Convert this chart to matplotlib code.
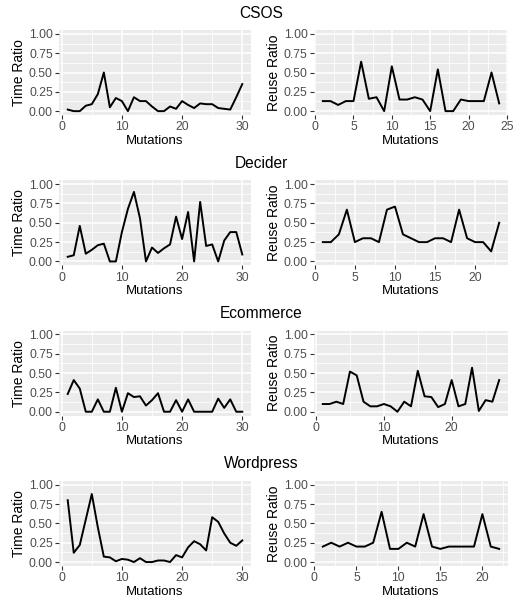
import numpy as np
import matplotlib.pyplot as plt
from matplotlib.ticker import MultipleLocator

plt.rcParams['font.family'] = ['Liberation Sans', 'DejaVu Sans']

# Datos
projects = ["CSOS", "Decider", "Ecommerce", "Wordpress"]

csos_time = [0.02, 0.0, 0.0, 0.07, 0.09, 0.22, 0.50, 0.05, 0.17, 0.13,
             0.0, 0.18, 0.13, 0.13, 0.06, 0.0, 0.0, 0.06, 0.03, 0.13,
             0.08, 0.04, 0.10, 0.09, 0.09, 0.04, 0.03, 0.02, 0.18, 0.35]
csos_reuse = [0.13, 0.13, 0.08, 0.13, 0.13, 0.64, 0.16, 0.18, 0.0, 0.58,
              0.15, 0.15, 0.18, 0.15, 0.0, 0.54, 0.0, 0.0, 0.15, 0.13,
              0.13, 0.13, 0.50, 0.10]

decider_time = [0.06, 0.08, 0.46, 0.10, 0.15, 0.21, 0.23, 0.0, 0.0, 0.38,
                0.68, 0.90, 0.56, 0.0, 0.18, 0.11, 0.17, 0.22, 0.58, 0.29,
                0.64, 0.0, 0.77, 0.20, 0.22, 0.0, 0.27, 0.38, 0.38, 0.09]
decider_reuse = [0.25, 0.25, 0.35, 0.67, 0.25, 0.30, 0.30, 0.25, 0.67, 0.71,
                 0.35, 0.30, 0.25, 0.25, 0.30, 0.30, 0.25, 0.67, 0.30, 0.25,
                 0.25, 0.13, 0.50]

ecommerce_time = [0.23, 0.41, 0.30, 0.0, 0.0, 0.16, 0.0, 0.0, 0.31, 0.0,
                  0.24, 0.19, 0.20, 0.08, 0.15, 0.24, 0.0, 0.0, 0.15, 0.0,
                  0.16, 0.0, 0.0, 0.0, 0.0, 0.17, 0.05, 0.16, 0.0, 0.0]
ecommerce_reuse = [0.10, 0.10, 0.13, 0.10, 0.52, 0.47, 0.13, 0.07, 0.07, 0.10,
                   0.07, 0.0, 0.13, 0.07, 0.53, 0.20, 0.19, 0.06, 0.10, 0.41,
                   0.07, 0.10, 0.57, 0.01, 0.15, 0.13, 0.41]

wordpress_time = [0.80, 0.12, 0.22, 0.55, 0.88, 0.45, 0.07, 0.06, 0.01, 0.04,
                  0.03, 0.0, 0.05, 0.0, 0.0, 0.02, 0.02, 0.0, 0.09, 0.06,
                  0.19, 0.27, 0.23, 0.15, 0.58, 0.52, 0.37, 0.25, 0.21, 0.28]
wordpress_reuse = [0.20, 0.25, 0.20, 0.25, 0.20, 0.20, 0.25, 0.65, 0.17, 0.17,
                   0.25, 0.20, 0.62, 0.20, 0.17, 0.20, 0.20, 0.20, 0.20, 0.62,
                   0.20, 0.17]

time_series = [csos_time, decider_time, ecommerce_time, wordpress_time]
reuse_series = [csos_reuse, decider_reuse, ecommerce_reuse, wordpress_reuse]
reuse_step = [5, 5, 10, 5]
yticks = [0, 0.25, 0.5, 0.75, 1.0]
ytick_labels = ["0.00", "0.25", "0.50", "0.75", "1.00"]

W, H = 522, 605
fig = plt.figure(figsize=(W / 100, H / 100), dpi=100)


def panel(x0, y0, w, h, y, ylabel, step):
    ax = fig.add_axes([x0 / W, 1 - (y0 + h) / H, w / W, h / H])
    x = np.arange(1, len(y) + 1)
    ax.set_facecolor('#EBEBEB')
    ax.plot(x, y, '-k', lw=1.4, zorder=3)
    ax.margins(x=0.05)
    ax.set_ylim(-0.05, 1.05)
    ax.xaxis.set_major_locator(MultipleLocator(step))
    ax.xaxis.set_minor_locator(MultipleLocator(step / 2))
    ax.yaxis.set_minor_locator(MultipleLocator(0.125))
    ax.set_yticks(yticks)
    ax.set_yticklabels(ytick_labels)
    ax.grid(which='major', color='white', lw=1.1)
    ax.grid(which='minor', color='white', lw=0.55)
    ax.set_axisbelow(True)
    for s in ax.spines.values():
        s.set_visible(False)
    ax.tick_params(which='major', length=3, width=0.8, color='#333333',
                   labelcolor='#4D4D4D', labelsize=8.8, pad=1.5)
    ax.tick_params(which='minor', length=0)
    ax.set_xlabel("Mutations", fontsize=9.5, labelpad=1)
    ax.set_ylabel(ylabel, fontsize=10, labelpad=2)
    return ax


for i, name in enumerate(projects):
    top = 30 + i * 150.3
    fig.text(0.5, 1 - (top - 17) / H, name, ha='center', va='center',
             fontsize=11.2)
    panel(59, top, 192, 85, time_series[i], "Time Ratio", 10)
    panel(314, top, 194, 85, reuse_series[i], "Reuse Ratio", reuse_step[i])

fig.savefig("out.png", dpi=100)
